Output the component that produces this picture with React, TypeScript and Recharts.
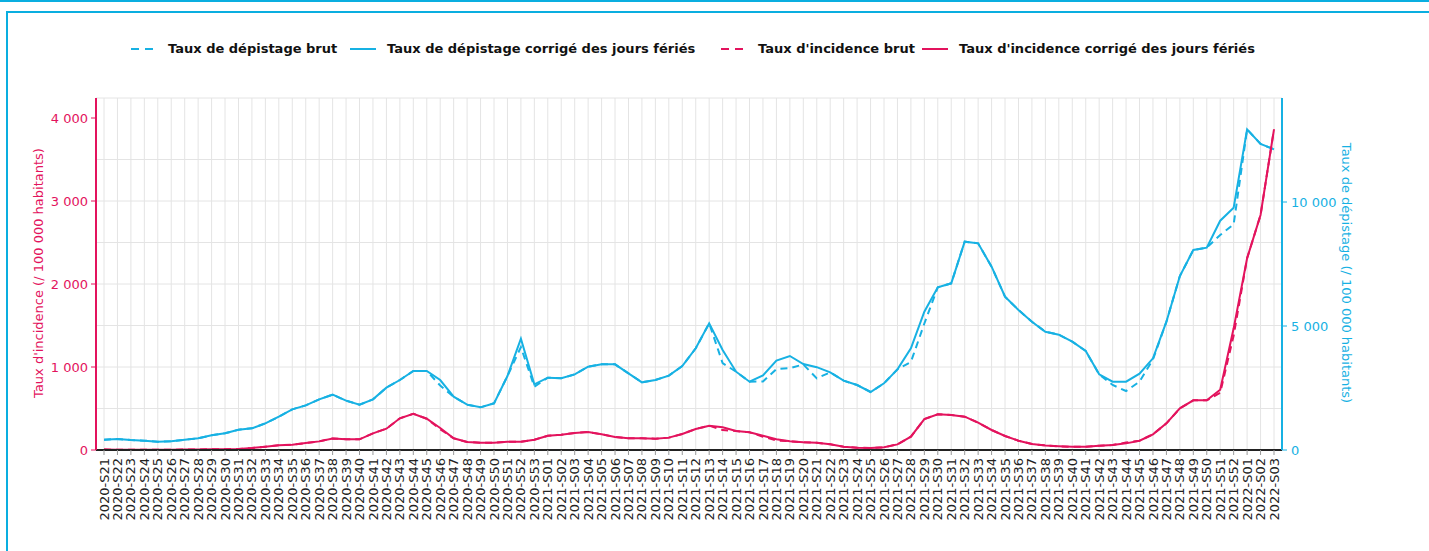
import React from 'react'
import { LineChart, Line, XAxis, YAxis, CartesianGrid } from 'recharts'

const BLUE = '#17b1e3'
const RED = '#e3135d'
const FRAME = '#0aaee0'

const weeks = [
  '2020-S21', '2020-S22', '2020-S23', '2020-S24', '2020-S25', '2020-S26', '2020-S27', '2020-S28',
  '2020-S29', '2020-S30', '2020-S31', '2020-S32', '2020-S33', '2020-S34', '2020-S35', '2020-S36',
  '2020-S37', '2020-S38', '2020-S39', '2020-S40', '2020-S41', '2020-S42', '2020-S43', '2020-S44',
  '2020-S45', '2020-S46', '2020-S47', '2020-S48', '2020-S49', '2020-S50', '2020-S51', '2020-S52',
  '2020-S53', '2021-S01', '2021-S02', '2021-S03', '2021-S04', '2021-S05', '2021-S06', '2021-S07',
  '2021-S08', '2021-S09', '2021-S10', '2021-S11', '2021-S12', '2021-S13', '2021-S14', '2021-S15',
  '2021-S16', '2021-S17', '2021-S18', '2021-S19', '2021-S20', '2021-S21', '2021-S22', '2021-S23',
  '2021-S24', '2021-S25', '2021-S26', '2021-S27', '2021-S28', '2021-S29', '2021-S30', '2021-S31',
  '2021-S32', '2021-S33', '2021-S34', '2021-S35', '2021-S36', '2021-S37', '2021-S38', '2021-S39',
  '2021-S40', '2021-S41', '2021-S42', '2021-S43', '2021-S44', '2021-S45', '2021-S46', '2021-S47',
  '2021-S48', '2021-S49', '2021-S50', '2021-S51', '2021-S52', '2022-S01', '2022-S02', '2022-S03',
]

// taux de dépistage (axe droit)
const depistageCorrige = [
  415, 443, 403, 376, 336, 349, 416, 470, 591, 672, 820, 873, 1075, 1344, 1639, 1801,
  2043, 2230, 1989, 1828, 2043, 2513, 2822, 3185, 3185, 2822, 2150, 1828, 1720, 1882, 2983, 4489,
  2648, 2916, 2890, 3050, 3359, 3454, 3454, 3092, 2729, 2822, 2997, 3387, 4100, 5108, 4032, 3158,
  2755, 3010, 3602, 3790, 3467, 3340, 3131, 2796, 2621, 2339, 2688, 3253, 4100, 5577, 6560, 6721,
  8400, 8333, 7391, 6181, 5645, 5173, 4770, 4650, 4368, 3992, 3051, 2755, 2755, 3078, 3696, 5173,
  7016, 8064, 8158, 9246, 9770, 12930, 12338, 12124,
]
const depistageBrut = [
  415, 443, 403, 376, 336, 349, 416, 470, 591, 672, 820, 873, 1075, 1344, 1639, 1801,
  2043, 2230, 1989, 1828, 2043, 2513, 2822, 3185, 3185, 2600, 2150, 1828, 1720, 1882, 2983, 4150,
  2553, 2916, 2890, 3050, 3359, 3454, 3454, 3092, 2729, 2822, 2997, 3387, 4100, 5108, 3500, 3158,
  2755, 2760, 3266, 3300, 3450, 2890, 3131, 2796, 2621, 2339, 2688, 3253, 3550, 5100, 6560, 6721,
  8400, 8333, 7391, 6181, 5645, 5173, 4770, 4650, 4368, 3992, 3051, 2621, 2379, 2755, 3650, 5173,
  7016, 8064, 8158, 8669, 9100, 12930, 12338, 12124,
]

// taux d'incidence (axe gauche)
const incidenceCorrige = [
  5, 4, 4, 3, 3, 4, 5, 7, 8, 10, 12, 24, 40, 56, 64, 84,
  104, 139, 129, 129, 201, 257, 382, 437, 377, 265, 141, 96, 88, 88, 100, 100,
  124, 172, 184, 205, 217, 189, 157, 141, 141, 137, 149, 193, 253, 293, 273, 229,
  213, 172, 129, 105, 93, 86, 68, 40, 28, 24, 32, 68, 161, 373, 430, 422,
  402, 329, 241, 169, 112, 72, 55, 45, 38, 40, 52, 60, 80, 112, 189, 321,
  502, 598, 598, 727, 1466, 2310, 2831, 3864,
]
const incidenceBrut = [
  5, 4, 4, 3, 3, 4, 5, 7, 8, 10, 12, 24, 40, 56, 64, 84,
  104, 139, 129, 129, 201, 257, 382, 437, 377, 250, 141, 96, 88, 88, 100, 100,
  124, 172, 184, 205, 217, 189, 157, 141, 141, 137, 149, 193, 253, 293, 240, 229,
  213, 160, 115, 105, 93, 86, 68, 40, 28, 24, 32, 68, 161, 373, 430, 422,
  402, 329, 241, 169, 112, 72, 55, 45, 38, 40, 52, 60, 90, 112, 189, 321,
  502, 598, 598, 690, 1380, 2310, 2831, 3864,
]

const leftTicks = [0, 1000, 2000, 3000, 4000]
const rightTicks = [0, 5000, 10000]
const leftGrid = [0, 500, 1000, 1500, 2000, 2500, 3000, 3500, 4000, 4241]

const data = weeks.map((w, i) => ({
  week: w,
  depBrut: depistageBrut[i],
  depCorr: depistageCorrige[i],
  incBrut: incidenceBrut[i],
  incCorr: incidenceCorrige[i],
}))

const legendItems = [
  { label: 'Taux de dépistage brut', color: BLUE, dashed: true, left: 131 },
  { label: 'Taux de dépistage corrigé des jours fériés', color: BLUE, dashed: false, left: 350 },
  { label: "Taux d'incidence brut", color: RED, dashed: true, left: 721 },
  { label: "Taux d'incidence corrigé des jours fériés", color: RED, dashed: false, left: 922 },
]

function fmt(v: number): string {
  return v.toLocaleString('fr-FR').replace(/\s/g, ' ')
}

function WeekTick({ x, y, payload }: any) {
  return (
    <g transform={`translate(${x},${y})`}>
      <text
        transform="rotate(-90)"
        x={0}
        y={0}
        dy="0.35em"
        textAnchor="end"
        fontSize={13}
        fill="#222"
        fontFamily="DejaVu Sans"
      >
        {payload.value}
      </text>
    </g>
  )
}

export default function App() {
  return (
    <div
      style={{
        position: 'absolute',
        left: 0,
        top: 0,
        width: 1429,
        height: 551,
        background: '#fff',
        overflow: 'hidden',
        fontFamily: 'DejaVu Sans',
      }}
    >
      <div style={{ position: 'absolute', left: 0, top: 0, width: 1429, height: 2, background: FRAME }} />
      <div
        style={{
          position: 'absolute',
          left: 6,
          top: 11,
          width: 1440,
          height: 560,
          borderTop: `2px solid ${FRAME}`,
          borderLeft: `2px solid ${FRAME}`,
        }}
      />

      {legendItems.map((it) => (
        <div
          key={it.label}
          style={{
            position: 'absolute',
            left: it.left,
            top: 41,
            display: 'flex',
            alignItems: 'center',
            fontSize: 13,
            fontWeight: 'bold',
            color: '#111',
            whiteSpace: 'nowrap',
          }}
        >
          <svg width={26} height={10} style={{ marginRight: 11 }}>
            <line
              x1={0}
              y1={5}
              x2={26}
              y2={5}
              stroke={it.color}
              strokeWidth={2}
              strokeDasharray={it.dashed ? '8 6' : undefined}
            />
          </svg>
          <span>{it.label}</span>
        </div>
      ))}

      <LineChart
        width={1429}
        height={551}
        data={data}
        margin={{ top: 98, right: 40, bottom: 26, left: 20 }}
        style={{ position: 'absolute', left: 0, top: 0 }}
      >
        <CartesianGrid
          stroke="#e4e4e4"
          strokeWidth={1}
          yAxisId="left"
          horizontalValues={leftGrid}
        />
        <XAxis
          dataKey="week"
          scale="point"
          padding={{ left: 8, right: 8 }}
          interval={0}
          height={75}
          tick={<WeekTick />}
          tickSize={5}
          tickMargin={3}
          tickLine={{ stroke: '#999' }}
          axisLine={{ stroke: '#222', strokeWidth: 2 }}
        />
        <YAxis
          yAxisId="left"
          orientation="left"
          width={76}
          domain={[0, 4241]}
          ticks={leftTicks}
          tickFormatter={fmt}
          tick={{ fill: RED, fontSize: 13, fontFamily: 'DejaVu Sans' }}
          tickSize={5}
          tickMargin={3}
          tickLine={{ stroke: RED }}
          axisLine={{ stroke: RED, strokeWidth: 2 }}
          allowDataOverflow
        />
        <YAxis
          yAxisId="right"
          orientation="right"
          width={107}
          domain={[0, 14194]}
          ticks={rightTicks}
          tickFormatter={fmt}
          tick={{ fill: BLUE, fontSize: 13, fontFamily: 'DejaVu Sans', textAnchor: 'start' }}
          tickSize={5}
          tickMargin={4}
          tickLine={{ stroke: BLUE }}
          axisLine={{ stroke: BLUE, strokeWidth: 2 }}
          allowDataOverflow
        />
        <Line
          yAxisId="right"
          dataKey="depBrut"
          stroke={BLUE}
          strokeWidth={2}
          strokeDasharray="7 5"
          dot={false}
          isAnimationActive={false}
        />
        <Line
          yAxisId="right"
          dataKey="depCorr"
          stroke={BLUE}
          strokeWidth={2}
          dot={false}
          isAnimationActive={false}
        />
        <Line
          yAxisId="left"
          dataKey="incBrut"
          stroke={RED}
          strokeWidth={2}
          strokeDasharray="7 5"
          dot={false}
          isAnimationActive={false}
        />
        <Line
          yAxisId="left"
          dataKey="incCorr"
          stroke={RED}
          strokeWidth={2}
          dot={false}
          isAnimationActive={false}
        />
      </LineChart>

      <svg
        width={1429}
        height={551}
        style={{ position: 'absolute', left: 0, top: 0, pointerEvents: 'none' }}
      >
        <text
          transform="translate(38,273) rotate(-90)"
          textAnchor="middle"
          dominantBaseline="central"
          fontSize={13}
          fill={RED}
          fontFamily="DejaVu Sans"
        >
          Taux d'incidence (/ 100 000 habitants)
        </text>
        <text
          transform="translate(1346,273) rotate(90)"
          textAnchor="middle"
          dominantBaseline="central"
          fontSize={13}
          fill={BLUE}
          fontFamily="DejaVu Sans"
        >
          Taux de dépistage (/ 100 000 habitants)
        </text>
      </svg>
    </div>
  )
}
